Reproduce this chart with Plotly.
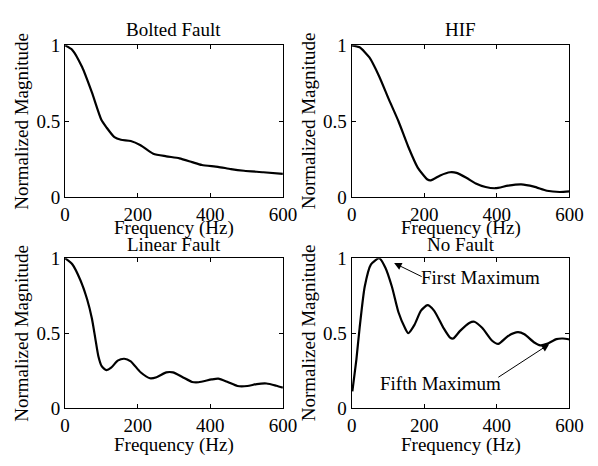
import plotly.graph_objects as go

# ---- data ----
titles = ["Bolted Fault", "HIF", "Linear Fault", "No Fault"]

bolted_f = [0, 20, 47, 74, 100, 114, 136, 154, 181, 208, 243, 279, 315, 350, 377, 421, 457, 493, 546, 600]
bolted_m = [1.0, 0.97, 0.857, 0.69, 0.51, 0.46, 0.395, 0.378, 0.37, 0.342, 0.286, 0.269, 0.256, 0.231, 0.212, 0.2, 0.185, 0.174, 0.164, 0.153]

hif_f = [0, 22, 49, 76, 102, 129, 156, 182, 209, 218, 244, 271, 289, 316, 342, 369, 396, 431, 467, 502, 538, 573, 600]
hif_m = [1.0, 0.987, 0.92, 0.795, 0.647, 0.5, 0.332, 0.195, 0.116, 0.111, 0.143, 0.164, 0.16, 0.128, 0.09, 0.067, 0.059, 0.076, 0.084, 0.069, 0.042, 0.034, 0.038]

lin_f = [0, 20, 43, 61, 74, 83, 92, 101, 114, 127, 145, 163, 181, 208, 234, 252, 279, 297, 324, 350, 368, 404, 422, 448, 475, 502, 528, 555, 582, 600]
lin_m = [1.0, 0.96, 0.85, 0.725, 0.598, 0.471, 0.345, 0.28, 0.254, 0.27, 0.317, 0.33, 0.313, 0.24, 0.2, 0.207, 0.239, 0.239, 0.207, 0.175, 0.173, 0.192, 0.197, 0.175, 0.148, 0.148, 0.161, 0.165, 0.15, 0.137]

nof_f = [2, 13, 22, 36, 53, 76, 93, 111, 129, 147, 156, 173, 191, 209, 227, 253, 271, 280, 298, 324, 338, 360, 387, 404, 431, 458, 476, 502, 520, 538, 564, 582, 600]
nof_m = [0.112, 0.323, 0.535, 0.81, 0.958, 1.0, 0.937, 0.81, 0.64, 0.535, 0.5, 0.556, 0.651, 0.687, 0.651, 0.535, 0.471, 0.465, 0.514, 0.569, 0.577, 0.535, 0.45, 0.429, 0.482, 0.507, 0.493, 0.44, 0.419, 0.429, 0.461, 0.465, 0.458]

x_ticks = [0, 200, 400, 600]
y_ticks = [0, 0.5, 1]
y_tick_text = ["0", "0.5", "1"]

x_label = "Frequency (Hz)"
y_label = "Normalized Magnitude"

series = [(bolted_f, bolted_m), (hif_f, hif_m), (lin_f, lin_m), (nof_f, nof_m)]

W, H = 598, 466
FONT = "Liberation Serif, Times New Roman, serif"
FS = 19

# panel pixel boxes (left, right, top, bottom)
boxes = [(62, 287, 37, 196), (358, 583, 37, 196), (62, 287, 260, 417), (358, 583, 260, 417)]
xlabel_gap = [32, 32, 39, 39]
title_gap = [17, 17, 14, 14]

fig = go.Figure()
for i, (f, m) in enumerate(series):
    n = "" if i == 0 else str(i + 1)
    fig.add_trace(go.Scatter(x=f, y=m, mode="lines", xaxis="x" + n, yaxis="y" + n,
                             line=dict(color="black", width=2.2, shape="spline", smoothing=0.6),
                             showlegend=False, hoverinfo="skip"))
    l, r, t, b = boxes[i]
    ax_common = dict(showline=True, linecolor="black", linewidth=1, mirror="ticks",
                     ticks="inside", ticklen=4, tickcolor="black", showgrid=False, zeroline=False,
                     tickfont=dict(family=FONT, size=FS, color="black"))
    fig.update_layout(**{
        "xaxis" + n: dict(domain=[l / W, r / W], anchor="y" + n, range=[0, 600],
                          tickvals=x_ticks, **ax_common),
        "yaxis" + n: dict(domain=[1 - b / H, 1 - t / H], anchor="x" + n, range=[0, 1],
                          tickvals=y_ticks, ticktext=y_tick_text, **ax_common),
    })
    cx = (l + r) / 2
    # subplot title
    fig.add_annotation(text=titles[i], x=cx / W, y=1 - (t - title_gap[i]) / H,
                       xref="paper", yref="paper",
                       showarrow=False, font=dict(family=FONT, size=FS, color="black"),
                       xanchor="center", yanchor="middle")
    # x label
    fig.add_annotation(text=x_label, x=cx / W, y=1 - (b + xlabel_gap[i]) / H, xref="paper", yref="paper",
                       showarrow=False, font=dict(family=FONT, size=FS, color="black"),
                       xanchor="center", yanchor="middle")
    # y label
    fig.add_annotation(text=y_label, x=(l - 45) / W, y=1 - ((t + b) / 2) / H, xref="paper", yref="paper",
                       showarrow=False, textangle=-90, font=dict(family=FONT, size=FS, color="black"),
                       xanchor="center", yanchor="middle")

# annotations on the No Fault panel
fig.add_annotation(text="First Maximum", x=354, y=0.873, xref="x4", yref="y4", showarrow=False,
                   font=dict(family=FONT, size=FS, color="black"))
fig.add_annotation(text="", x=117, y=0.968, xref="x4", yref="y4", ax=197, ay=0.873,
                   axref="x4", ayref="y4", showarrow=True, arrowhead=2, arrowsize=1.5,
                   arrowwidth=1, arrowcolor="black")
fig.add_annotation(text="Fifth Maximum", x=245, y=0.165, xref="x4", yref="y4", showarrow=False,
                   font=dict(family=FONT, size=FS, color="black"))
fig.add_annotation(text="", x=544, y=0.427, xref="x4", yref="y4", ax=400, ay=0.2,
                   axref="x4", ayref="y4", showarrow=True, arrowhead=2, arrowsize=1.5,
                   arrowwidth=1, arrowcolor="black")

fig.update_layout(width=W, height=H, margin=dict(l=0, r=0, t=0, b=0),
                  paper_bgcolor="white", plot_bgcolor="white",
                  font=dict(family=FONT, size=FS, color="black"))

fig.write_html("out.html")
